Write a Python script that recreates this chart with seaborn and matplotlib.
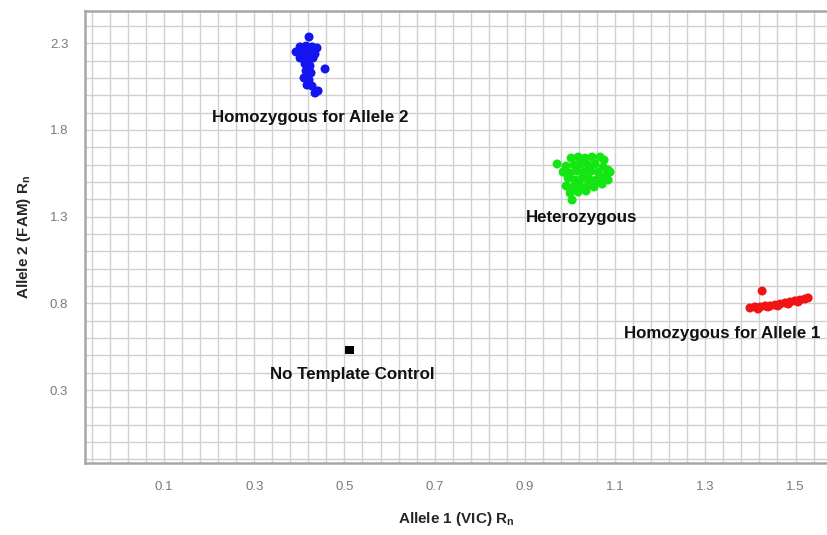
import numpy as np
import pandas as pd
import matplotlib
matplotlib.use("Agg")
import matplotlib.pyplot as plt
import seaborn as sns

# Allele 2 homozygotes (blue)
allele2_x = [0.4215, 0.4016, 0.4149, 0.4282, 0.4392, 0.3927, 0.4082, 0.4215, 0.4348,
             0.4016, 0.4171, 0.4304, 0.4126, 0.4237, 0.4149, 0.4259, 0.4104, 0.4215,
             0.4171, 0.4282, 0.4570, 0.4348, 0.4415]
allele2_y = [2.336, 2.279, 2.284, 2.279, 2.273, 2.250, 2.244, 2.250, 2.238,
             2.215, 2.209, 2.215, 2.181, 2.169, 2.140, 2.129, 2.100, 2.088,
             2.059, 2.053, 2.152, 2.013, 2.025]

# Heterozygotes (green)
het_x = [0.9714, 1.0024, 1.0180, 1.0335, 1.0490, 1.0667, 1.0756,
         0.9914, 1.0091, 1.0246, 1.0401, 1.0557, 1.0734, 1.0845,
         0.9847, 1.0002, 1.0158, 1.0313, 1.0468, 1.0623, 1.0800, 1.0889,
         0.9958, 1.0113, 1.0268, 1.0424, 1.0579, 1.0734, 1.0845,
         0.9914, 1.0069, 1.0224, 1.0401, 1.0534, 1.0712,
         1.0002, 1.0180, 1.0357, 1.0047]
het_y = [1.604, 1.638, 1.644, 1.638, 1.644, 1.644, 1.627,
         1.592, 1.598, 1.604, 1.598, 1.604, 1.586, 1.569,
         1.557, 1.551, 1.563, 1.557, 1.563, 1.557, 1.540, 1.557,
         1.522, 1.511, 1.522, 1.517, 1.511, 1.522, 1.511,
         1.477, 1.471, 1.477, 1.482, 1.471, 1.488,
         1.436, 1.442, 1.448, 1.396]

# Allele 1 homozygotes (red)
allele1_x = [1.426, 1.399, 1.410, 1.422, 1.433, 1.444, 1.455, 1.466, 1.477, 1.488,
             1.499, 1.510, 1.521, 1.528, 1.417, 1.439, 1.461, 1.484, 1.506]
allele1_y = [0.871, 0.773, 0.779, 0.779, 0.785, 0.785, 0.790, 0.796, 0.802, 0.808,
             0.814, 0.819, 0.825, 0.831, 0.767, 0.779, 0.785, 0.796, 0.808]

# No template control (black)
ntc_x = [0.509, 0.512]
ntc_y = [0.531, 0.529]

x_ticks = [0.1, 0.3, 0.5, 0.7, 0.9, 1.1, 1.3, 1.5]
y_ticks = [0.3, 0.8, 1.3, 1.8, 2.3]

df = pd.DataFrame({
    "vic": allele2_x + het_x + allele1_x + ntc_x,
    "fam": allele2_y + het_y + allele1_y + ntc_y,
    "call": (["Allele 2"] * len(allele2_x) + ["Het"] * len(het_x)
             + ["Allele 1"] * len(allele1_x) + ["NTC"] * len(ntc_x)),
})

sns.set_style("white")
plt.rcParams["font.family"] = ["Liberation Sans", "DejaVu Sans"]

fig = plt.figure(figsize=(8.28, 5.35), dpi=100)
ax = fig.add_axes([85 / 828, 72 / 535, 743 / 828, 452.5 / 535])

# grid first so the dots sit on top
ax.set_xticks(np.arange(-0.06, 1.58, 0.04), minor=True)
ax.set_yticks(np.arange(-0.1, 2.5, 0.1), minor=True)
ax.grid(which="minor", color="#d0d0d0", lw=1.0)
ax.grid(which="major", color="#d0d0d0", lw=1.0)
ax.set_axisbelow(True)

palette = {"Allele 2": "#1414f0", "Het": "#14e614", "Allele 1": "#f01414", "NTC": "black"}
pts = df[df["call"] != "NTC"]
sns.scatterplot(data=pts, x="vic", y="fam", hue="call", palette=palette,
                s=42, linewidth=0, legend=False, ax=ax)
sns.scatterplot(data=df[df["call"] == "NTC"], x="vic", y="fam", color="black",
                marker="s", s=40, linewidth=0, legend=False, ax=ax)

ax.set_xlim(-0.0752, 1.572)
ax.set_ylim(-0.121, 2.489)
ax.set_xticks(x_ticks)
ax.set_yticks(y_ticks)
ax.set_xticklabels([f"{t:.1f}" for t in x_ticks])
ax.set_yticklabels([f"{t:.1f}" for t in y_ticks])
ax.tick_params(which="both", direction="out", color="#aaaaaa", labelcolor="#7a7a7a",
               labelsize=9.5)
ax.tick_params(axis="x", which="minor", length=5, width=1)
ax.tick_params(axis="x", which="major", length=5, width=1, pad=8)
ax.tick_params(axis="y", which="minor", length=0)
ax.tick_params(axis="y", which="major", length=6, width=1, pad=6)

for side in ["left", "bottom", "top"]:
    ax.spines[side].set_color("#a6a6a6")
    ax.spines[side].set_linewidth(1.8)
ax.spines["right"].set_visible(False)

ax.set_xlabel(r"Allele 1 (VIC) R$_\mathregular{n}$", fontsize=11, fontweight="bold",
              labelpad=12)
ax.set_ylabel(r"Allele 2 (FAM) R$_\mathregular{n}$", fontsize=11, fontweight="bold",
              labelpad=12)

lbl = dict(fontsize=12.2, fontweight="bold", ha="center", va="center", color="#111111")
ax.text(0.424, 1.869, "Homozygous for Allele 2", **lbl)
ax.text(1.025, 1.296, "Heterozygous", **lbl)
ax.text(1.337, 0.628, "Homozygous for Allele 1", **lbl)
ax.text(0.517, 0.392, "No Template Control", **lbl)

fig.savefig("out.png", dpi=100)
